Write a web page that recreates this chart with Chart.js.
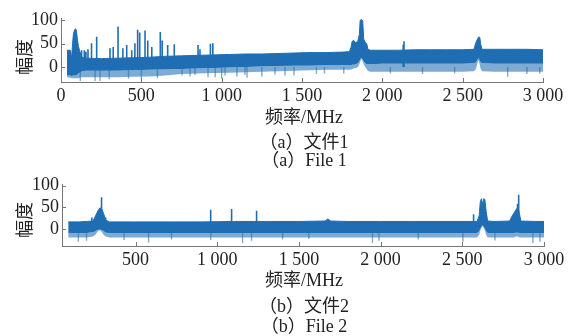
<!DOCTYPE html>
<html><head><meta charset="utf-8">
<script src="https://cdn.jsdelivr.net/npm/chart.js@4/dist/chart.umd.min.js"></script>
<style>
html,body{margin:0;padding:0;background:#fff;}
#wrap{position:relative;width:578px;height:336px;overflow:hidden;font-family:"Liberation Serif","Noto Sans CJK SC",serif;color:#222;}
.cv{position:absolute;left:0;}
.txt{position:absolute;font-size:18px;line-height:20px;white-space:nowrap;transform:translateX(-50%);}
.ylab{position:absolute;font-size:18px;line-height:20px;white-space:nowrap;transform:translate(-50%,-50%) rotate(-90deg);}
</style></head>
<body><div id="wrap">
<canvas id="c1" class="cv" width="578" height="110" style="top:0px"></canvas>
<canvas id="c2" class="cv" width="578" height="110" style="top:165px"></canvas>
<div class="ylab" style="left:25px;top:57px">幅度</div>
<div class="txt" style="left:304px;top:107px">频率/MHz</div>
<div class="txt" style="left:304px;top:132px">（a）文件1</div>
<div class="txt" style="left:304px;top:150px">（a）File 1</div>
<div class="ylab" style="left:25px;top:220px">幅度</div>
<div class="txt" style="left:304px;top:270px">频率/MHz</div>
<div class="txt" style="left:304px;top:296px">（b）文件2</div>
<div class="txt" style="left:304px;top:316px">（b）File 2</div>
</div>
<script>
// ---- File 1 (a) ----
const freqA     = [37,58,64,68,72,77,83,89,95,102,108,116,126,150,250,350,450,550,650,750,850,950,1050,1150,1250,1350,1450,1550,1650,1750,1795,1805,1812,1822,1835,1848,1857,1862,1870,1878,1884,1893,1903,1910,1925,2000,2100,2200,2300,2400,2500,2570,2582,2590,2598,2606,2612,2620,2700,2800,2900,3000];
const hiA       = [36,36,24,30,50,70,78,82,80,60,45,35,22,19,18,19,20,21,23,24,25,26,27,28,28,29,30,31,31,32,33,42,55,57,52,56,70,100,102,98,60,53,50,38,36,36,36,37,37,37,37,38,52,58,64,64,50,38,38,38,38,37];
const coreLoA   = [-18,-18,-20,-20,-18,-18,-18,-18,-18,-16,-14,-12,-10,-8,-8,-8,-7,-6,-5,-4,-3,-2,-1,0,1,2,3,3,4,4,4,4,5,5,6,8,12,16,20,16,12,8,6,6,6,7,7,7,7,7,7,8,10,14,19,14,10,8,7,7,7,7];
const fringeLoA = [-22,-23,-24,-24,-24,-24,-24,-24,-24,-24,-24,-23,-22,-22,-22,-22,-21,-20,-18,-15,-14,-13,-12,-11,-10,-9,-8,-7,-6,-6,-6,-5,-4,-3,-2,0,6,12,17,12,6,0,-4,-8,-10,-10,-10,-10,-10,-10,-10,-9,-4,6,15,6,-4,-9,-10,-10,-10,-10];
const upFreqA   = [128,145,155,168,190,222,305,325,355,385,409,440,460,477,490,523,540,565,618,630,664,705,853,865,930,945,2130,2135];
const upValA    = [36,36,33,38,51,65,40,43,87,40,47,36,51,80,74,78,57,43,75,57,47,49,47,38,50,51,48,55];
const dnFreqA   = [120,212,243,300,420,500,600,753,803,834,915,960,1000,1021,1095,1145,1158,1250,1332,1394,1450,1590,1640,1760,2050,2250,2450,2780,2900,2980];
const dnValA    = [-30,-30,-30,-26,-25,-26,-24,-18,-20,-17,-22,-22,-25,-18,-20,-17,-23,-20,-16,-18,-18,-15,-14,-14,-14,-15,-14,-21,-15,-14];
const xTicksA   = [0,500,1000,1500,2000,2500,3000];

// ---- File 2 (b) ----
const freqB     = [88,150,200,240,255,265,275,285,295,305,318,340,500,700,900,1100,1300,1500,1660,1677,1695,1800,2000,2200,2400,2590,2603,2610,2617,2624,2631,2638,2646,2655,2700,2790,2802,2815,2830,2840,2850,2858,2950,3000];
const hiB       = [16,16,17,18,30,38,45,49,45,35,20,16,16,16,16,17,17,17,18,23,18,17,17,17,17,17,30,62,70,56,70,68,40,18,17,18,28,36,45,50,35,18,17,17];
const coreLoB   = [-10,-10,-10,-8,-6,-3,-2,-2,-3,-6,-9,-10,-10,-10,-10,-10,-10,-10,-10,-10,-10,-10,-10,-10,-10,-10,-6,0,5,8,5,0,-6,-10,-10,-10,-10,-10,-9,-9,-10,-10,-10,-10];
const fringeLoB = [-20,-20,-20,-18,-14,-8,-4,-4,-8,-14,-18,-20,-20,-20,-20,-20,-20,-20,-20,-20,-20,-20,-20,-20,-20,-20,-14,-4,2,6,2,-4,-14,-20,-20,-20,-20,-20,-18,-18,-20,-20,-20,-20];
const upFreqB   = [233,292,317,960,1088,1241,2569,2838,2845];
const upValB    = [26,73,26,44,46,42,34,58,79];
const dnFreqB   = [150,200,430,580,720,960,1155,1210,1400,1560,1950,1990,2230,2504,2700,2932,2975];
const dnValB    = [-30,-28,-26,-32,-25,-26,-33,-28,-25,-24,-33,-28,-25,-30,-27,-33,-30];
const xTicksB   = [500,1000,1500,2000,2500,3000];
const yTicks    = [0,50,100];

const BLUE = 'rgb(31,110,180)';
const LIGHT = 'rgba(31,110,180,0.58)';
const AXIS = '#777';

function pts(xs, ys){ return xs.map((x,i)=>({x:x,y:ys[i]})); }
function spikes(xs, ys){
  const out=[];
  xs.forEach((x,i)=>{ out.push({x:x,y:0}); out.push({x:x,y:ys[i]}); out.push({x:x,y:null}); });
  return out;
}
function fmt(v){
  if (v>=1000){ const r=String(v%1000).padStart(3,'0'); return Math.floor(v/1000)+' '+r; }
  return String(v);
}
const inwardTicks = {
  id:'inwardTicks',
  afterDatasetsDraw(chart){
    const {ctx, chartArea:a, scales:{x,y}} = chart;
    ctx.save(); ctx.strokeStyle=AXIS; ctx.lineWidth=1;
    x.ticks.forEach(t=>{ const p=Math.round(x.getPixelForValue(t.value))+0.5; ctx.beginPath(); ctx.moveTo(p,a.bottom); ctx.lineTo(p,a.bottom-4); ctx.stroke(); });
    y.ticks.forEach(t=>{ const p=Math.round(y.getPixelForValue(t.value))+0.5; ctx.beginPath(); ctx.moveTo(a.left,p); ctx.lineTo(a.left+4,p); ctx.stroke(); });
    ctx.restore();
  }
};

function makeChart(id, cfg){
  const tickFont = {family:'"Liberation Serif", serif', size:18};
  return new Chart(document.getElementById(id), {
    type:'line',
    data:{datasets:[
      {data:pts(cfg.f,cfg.hi), borderColor:BLUE, borderWidth:1, backgroundColor:BLUE, fill:'+1', pointRadius:0, tension:0},
      {data:pts(cfg.f,cfg.lo), borderColor:'rgba(0,0,0,0)', borderWidth:0, backgroundColor:LIGHT, fill:'+1', pointRadius:0, tension:0},
      {data:pts(cfg.f,cfg.fr), borderColor:'rgba(0,0,0,0)', borderWidth:0, fill:false, pointRadius:0, tension:0},
      {data:spikes(cfg.uf,cfg.uv), borderColor:BLUE, borderWidth:1.6, fill:false, pointRadius:0, spanGaps:false},
      {data:spikes(cfg.df,cfg.dv), borderColor:LIGHT, borderWidth:1.4, fill:false, pointRadius:0, spanGaps:false}
    ]},
    options:{
      responsive:false, animation:false, events:[],
      layout:{padding:{left:0,right:cfg.padR,top:cfg.padT,bottom:0}},
      plugins:{legend:{display:false}, tooltip:{enabled:false}},
      scales:{
        x:{type:'linear', min:cfg.xmin, max:3000,
           grid:{display:false, drawTicks:false},
           border:{display:true, color:AXIS, width:1},
           afterBuildTicks:(s)=>{ s.ticks = cfg.xt.map(v=>({value:v})); },
           afterFit:(s)=>{ s.height = cfg.xh; },
           ticks:{font:tickFont, color:'#222', padding:3, maxRotation:0, autoSkip:false, callback:(v)=>fmt(v)}},
        y:{type:'linear', min:cfg.ymin, max:cfg.ymax,
           grid:{display:false, drawTicks:false},
           border:{display:true, color:AXIS, width:1},
           afterBuildTicks:(s)=>{ s.ticks = yTicks.map(v=>({value:v})); },
           afterFit:(s)=>{ s.width = cfg.yw; },
           ticks:{font:tickFont, color:'#222', padding:3, callback:(v)=>String(v)}}
      }
    },
    plugins:[inwardTicks]
  });
}

makeChart('c1',{f:freqA,hi:hiA,lo:coreLoA,fr:fringeLoA,uf:upFreqA,uv:upValA,df:dnFreqA,dv:dnValA,xt:xTicksA,
  xmin:0,ymin:-32,ymax:105,padR:35,padT:18,xh:28,yw:61});
makeChart('c2',{f:freqB,hi:hiB,lo:coreLoB,fr:fringeLoB,uf:upFreqB,uv:upValB,df:dnFreqB,dv:dnValB,xt:xTicksB,
  xmin:50,ymin:-40,ymax:104,padR:34,padT:19,xh:29,yw:62});
</script>
</body></html>
